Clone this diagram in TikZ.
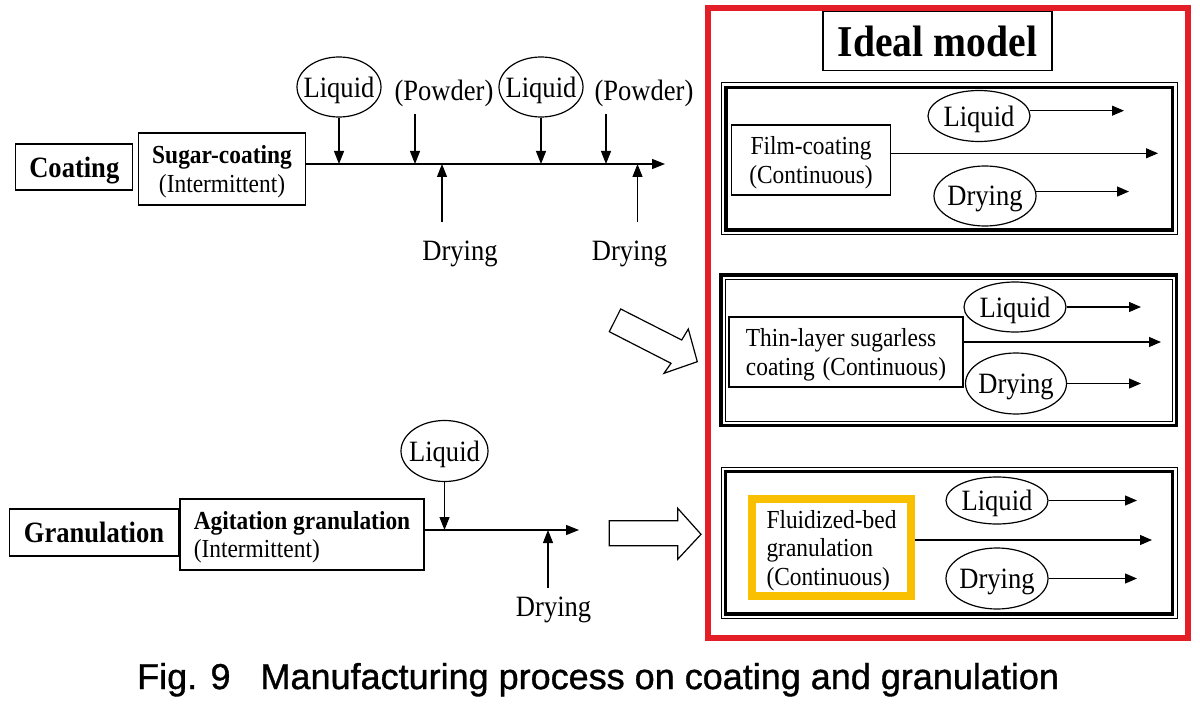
\documentclass[tikz,border=0pt]{standalone}
\usepackage{fontspec}
\setmainfont[FakeStretch=0.9]{Liberation Serif}
\newfontfamily\capfont[FakeBold=1]{Liberation Sans}
\usetikzlibrary{arrows.meta,shapes.geometric}
\definecolor{redframe}{RGB}{228,30,38}
\definecolor{goldframe}{RGB}{248,192,0}
\begin{document}
\begin{tikzpicture}[x=1pt,y=-1pt,
  every node/.style={text depth=0pt},
  box/.style={draw, line width=1.2pt, inner sep=0pt},
  oval/.style={ellipse, draw, line width=1.2pt, inner ysep=0pt, inner xsep=-6pt},
  big/.style={font=\fontsize{29.5}{32}\selectfont},
  mid/.style={font=\fontsize{26}{28.5}\selectfont},
  arr/.style={line width=1.1pt, -{Triangle[length=13pt,width=10pt]}},
  parr/.style={line width=1.1pt, -{Triangle[length=12pt,width=10pt]}},
  hollow/.style={draw, line width=1.2pt, fill=white, line join=miter}]
\useasboundingbox (0,0) rectangle (1200,706);

% ---------------- Coating row ----------------
\node[box, big, minimum width=117pt, minimum height=46pt] (coat) at (74.3,167) {\textbf{Coating}};
\node[box, mid, minimum width=167pt, minimum height=72pt, align=center] (sugar) at (222,169)
  {\textbf{Sugar-coating}\\(Intermittent)};
\coordinate (mainEnd) at (665,164);
\draw[arr] (sugar.east |- mainEnd) -- (mainEnd);

\node[oval, big, minimum width=84pt, minimum height=60pt] (liq1) at (339,87) {Liquid};
\node[oval, big, minimum width=84pt, minimum height=60pt] (liq2) at (541,87) {Liquid};
\node[big, inner sep=0pt] (pow1) at (444,90) {(Powder)};
\node[big, inner sep=0pt] (pow2) at (644,90) {(Powder)};
\coordinate (p1) at (415,114);
\coordinate (p2) at (606,114);
\draw[arr] (liq1.south) -- (liq1.south |- mainEnd);
\draw[arr] (liq2.south) -- (liq2.south |- mainEnd);
\draw[arr] (p1) -- (p1 |- mainEnd);
\draw[arr] (p2) -- (p2 |- mainEnd);

\node[big, inner sep=0pt] (dry1) at (460,251) {Drying};
\node[big, inner sep=0pt] (dry2) at (629.5,251) {Drying};
\coordinate (d1) at (442,222);
\coordinate (d2) at (637.5,222);
\draw[arr] (d1) -- (d1 |- mainEnd);
\draw[arr] (d2) -- (d2 |- mainEnd);

% ---------------- Granulation row ----------------
\node[box, big, minimum width=169pt, minimum height=47pt] (gran) at (94,532.5) {\textbf{Granulation}};
\node[box, mid, minimum width=244pt, minimum height=71pt, align=left] (agit) at (302,534.5)
  {\textbf{Agitation granulation}\\(Intermittent)};
\coordinate (gEnd) at (579,530);
\draw[arr] (agit.east |- gEnd) -- (gEnd);
\node[oval, big, minimum width=87pt, minimum height=61pt] (liq3) at (444.5,451) {Liquid};
\draw[arr] (liq3.south) -- (liq3.south |- gEnd);
\node[big, inner sep=0pt] (dry3) at (553.6,607) {Drying};
\coordinate (d3) at (548,588);
\draw[arr] (d3) -- (d3 |- gEnd);

% ---------------- Hollow arrows ----------------
\draw[hollow] (620.7,309) -- (681.7,340) -- (688.3,329) -- (697.3,361.7) -- (664,373.3) -- (671,363.3) -- (609.3,331.7) -- cycle;
\draw[hollow] (609.3,520.7) -- (677.7,520.7) -- (677.7,508.3) -- (701,534.3) -- (677.7,559.3) -- (677.7,545.7) -- (609.3,545.7) -- cycle;

% ---------------- Ideal model frame ----------------
\draw[redframe, line width=6.5pt] (708,8) rectangle (1188,638);
\node[box, minimum width=229pt, minimum height=59pt, font=\fontsize{44}{48}\selectfont] (ideal) at (937.5,41) {\textbf{Ideal model}};

% Panel 1
\draw[line width=1pt] (721.5,83) rectangle (1177,234);
\draw[line width=3.6pt] (726,87.5) rectangle (1172.5,230);
\node[box, mid, minimum width=159pt, minimum height=70pt, align=center] (film) at (811,160)
  {Film-coating\\(Continuous)};
\node[oval, big, minimum width=102pt, minimum height=51pt] (liqA) at (979,116) {Liquid};
\node[oval, big, minimum width=102pt, minimum height=60pt] (dryA) at (985,196) {Drying};
\coordinate (eA1) at (1124,0);
\coordinate (eA2) at (1129,0);
\coordinate (mA) at (1158,153.3);
\draw[parr] (liqA.6) -- (liqA.6 -| eA1);
\draw[parr] (dryA.5) -- (dryA.5 -| eA2);
\draw[parr] (film.east |- mA) -- (mA);

% Panel 2
\draw[line width=3.6pt] (721,275) rectangle (1176.5,425.5);
\draw[line width=1pt] (725.5,279.5) rectangle (1172,421.5);
\node[box, mid, minimum width=234pt, minimum height=70pt, align=left] (thin) at (846,352)
  {Thin-layer sugarless\\coating\hspace{0.3em}(Continuous)};
\node[oval, big, minimum width=102pt, minimum height=50pt] (liqB) at (1015,307) {Liquid};
\node[oval, big, minimum width=101pt, minimum height=61pt] (dryB) at (1016,383.5) {Drying};
\coordinate (eB) at (1141,0);
\coordinate (mB) at (1161,342);
\draw[parr] (liqB.east) -- (liqB.east -| eB);
\draw[parr] (dryB.east) -- (dryB.east -| eB);
\draw[parr] (thin.east |- mB) -- (mB);

% Panel 3
\draw[line width=1pt] (721,467) rectangle (1177,618);
\draw[line width=3.6pt] (725.5,471.5) rectangle (1172.5,614);
\node[draw=goldframe, line width=8pt, inner sep=0pt, mid, minimum width=159pt, minimum height=97pt, align=left] (fluid) at (831.5,547.5)
  {Fluidized-bed\\granulation\\(Continuous)};
\node[oval, big, minimum width=102pt, minimum height=47pt] (liqC) at (997,500.5) {Liquid};
\node[oval, big, minimum width=102pt, minimum height=61pt] (dryC) at (997,578.5) {Drying};
\coordinate (eC) at (1137,0);
\coordinate (mC) at (1152,540);
\draw[parr] (liqC.east) -- (liqC.east -| eC);
\draw[parr] (dryC.east) -- (dryC.east -| eC);
\draw[parr] (fluid.east |- mC) -- (mC);

% ---------------- Caption ----------------
\node[inner sep=0pt, anchor=west, font=\capfont\fontsize{36}{40}\selectfont] (cap) at (137,676)
  {Fig. 9\hspace{30pt}Manufacturing process on coating and granulation};
\end{tikzpicture}
\end{document}
